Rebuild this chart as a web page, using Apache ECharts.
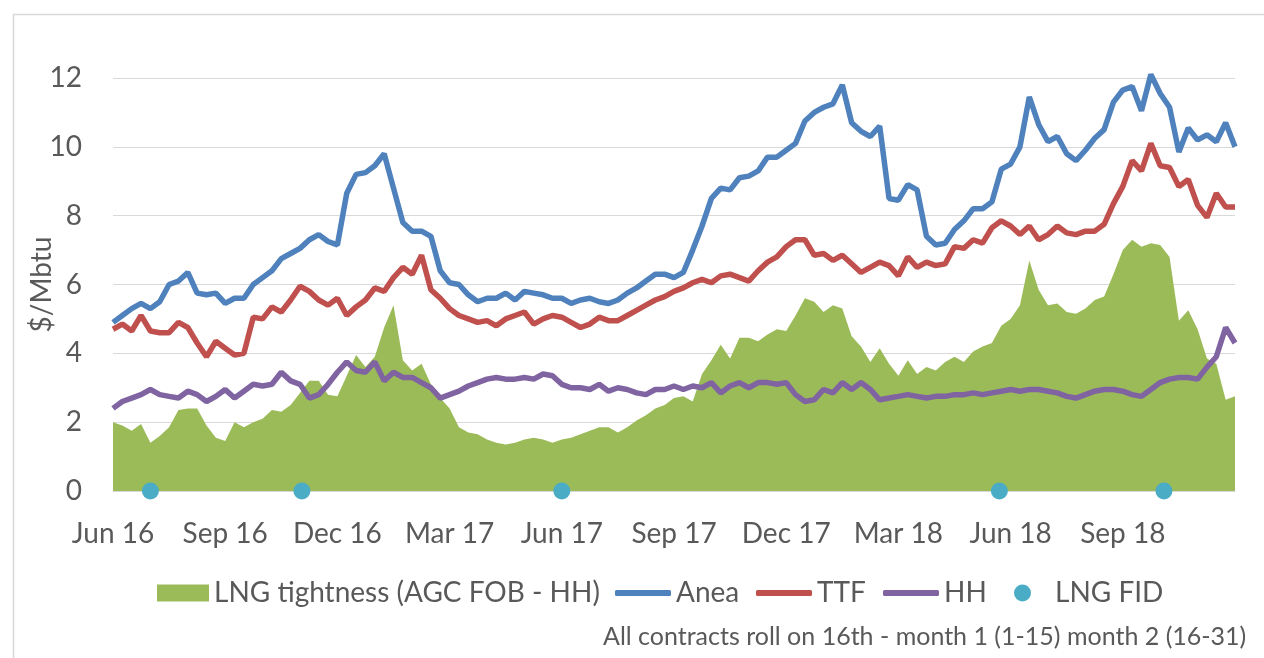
<!DOCTYPE html>
<html>
<head>
<meta charset="utf-8">
<title>LNG tightness</title>
<script src="https://cdn.jsdelivr.net/npm/echarts@6/dist/echarts.min.js"></script>
<style>
  html, body { margin: 0; padding: 0; background: #fff; }
  #chart { width: 1264px; height: 658px; }
</style>
</head>
<body>
<div id="chart"></div>
<script>
// x is months since 1 Jun 2016, one sample every quarter month (121 samples up to Dec 18)
const step = 0.25;
const tickLabels = ['Jun 16', 'Sep 16', 'Dec 16', 'Mar 17', 'Jun 17', 'Sep 17', 'Dec 17', 'Mar 18', 'Jun 18', 'Sep 18'];

const lngTightness = [
  2.0, 1.9, 1.75, 1.95, 1.4, 1.6, 1.85, 2.35, 2.4, 2.4, 1.9, 1.55, 1.45, 2.0, 1.85, 2.0, 2.1, 2.35, 2.3, 2.5, 2.85,
  3.2, 3.2, 2.8, 2.75, 3.35, 3.95, 3.6, 3.9, 4.75, 5.4, 3.8, 3.5, 3.7, 3.1, 2.7, 2.4, 1.85, 1.7, 1.65, 1.5,
  1.4, 1.35, 1.4, 1.5, 1.55, 1.5, 1.4, 1.5, 1.55, 1.65, 1.75, 1.85, 1.85, 1.7, 1.85, 2.05, 2.2, 2.4, 2.5, 2.7,
  2.75, 2.6, 3.4, 3.8, 4.25, 3.85, 4.45, 4.45, 4.35, 4.55, 4.7, 4.65, 5.1, 5.6, 5.5, 5.2, 5.4, 5.3, 4.5, 4.2,
  3.75, 4.15, 3.7, 3.35, 3.8, 3.4, 3.6, 3.5, 3.75, 3.9, 3.75, 4.05, 4.2, 4.3, 4.8, 5.0, 5.4, 6.7, 5.85, 5.4,
  5.45, 5.2, 5.15, 5.3, 5.55, 5.65, 6.3, 7.0, 7.3, 7.1, 7.2, 7.15, 6.8, 4.95, 5.25, 4.7, 3.85, 3.7, 2.65, 2.75
];
const anea = [
  4.9, 5.1, 5.3, 5.45, 5.3, 5.5, 6.0, 6.1, 6.35, 5.75, 5.7, 5.75, 5.45, 5.6, 5.6, 6.0, 6.2, 6.4, 6.75, 6.9, 7.05,
  7.3, 7.45, 7.25, 7.15, 8.65, 9.2, 9.25, 9.45, 9.8, 8.8, 7.8, 7.55, 7.55, 7.4, 6.4, 6.05, 6.0, 5.7, 5.5, 5.6,
  5.6, 5.75, 5.55, 5.8, 5.75, 5.7, 5.6, 5.6, 5.45, 5.55, 5.6, 5.5, 5.45, 5.55, 5.75, 5.9, 6.1, 6.3, 6.3, 6.2,
  6.35, 7.0, 7.7, 8.5, 8.8, 8.75, 9.1, 9.15, 9.3, 9.7, 9.7, 9.9, 10.1, 10.75, 11.0, 11.15, 11.25, 11.8, 10.7, 10.45,
  10.3, 10.6, 8.5, 8.45, 8.9, 8.75, 7.4, 7.15, 7.2, 7.6, 7.85, 8.2, 8.2, 8.4, 9.35, 9.5, 10.0, 11.45, 10.65, 10.15,
  10.3, 9.8, 9.6, 9.9, 10.25, 10.5, 11.3, 11.65, 11.75, 11.05, 12.1, 11.55, 11.15, 9.85, 10.55, 10.2, 10.35, 10.15, 10.7, 10.0
];
const ttf = [
  4.7, 4.85, 4.65, 5.1, 4.65, 4.6, 4.6, 4.9, 4.75, 4.3, 3.9, 4.35, 4.15, 3.95, 4.0, 5.05, 5.0, 5.35, 5.2, 5.55, 5.95,
  5.8, 5.55, 5.4, 5.6, 5.1, 5.35, 5.55, 5.9, 5.8, 6.2, 6.5, 6.3, 6.85, 5.85, 5.6, 5.3, 5.1, 5.0, 4.9, 4.95,
  4.8, 5.0, 5.1, 5.2, 4.85, 5.0, 5.1, 5.05, 4.9, 4.75, 4.85, 5.05, 4.95, 4.95, 5.1, 5.25, 5.4, 5.55, 5.65, 5.8,
  5.9, 6.05, 6.15, 6.05, 6.25, 6.3, 6.2, 6.1, 6.4, 6.65, 6.8, 7.1, 7.3, 7.3, 6.85, 6.9, 6.7, 6.85, 6.6, 6.35,
  6.5, 6.65, 6.55, 6.25, 6.8, 6.5, 6.65, 6.55, 6.6, 7.1, 7.05, 7.3, 7.2, 7.65, 7.85, 7.7, 7.45, 7.7, 7.3, 7.45,
  7.7, 7.5, 7.45, 7.55, 7.55, 7.75, 8.35, 8.85, 9.6, 9.3, 10.1, 9.45, 9.4, 8.85, 9.05, 8.3, 7.95, 8.65, 8.25, 8.25
];
const hh = [
  2.4, 2.6, 2.7, 2.8, 2.95, 2.8, 2.75, 2.7, 2.9, 2.8, 2.6, 2.75, 2.95, 2.7, 2.9, 3.1, 3.05, 3.1, 3.45, 3.2, 3.1,
  2.7, 2.8, 3.1, 3.45, 3.75, 3.5, 3.45, 3.75, 3.2, 3.45, 3.3, 3.3, 3.15, 3.0, 2.7, 2.8, 2.9, 3.05, 3.15, 3.25,
  3.3, 3.25, 3.25, 3.3, 3.25, 3.4, 3.35, 3.1, 3.0, 3.0, 2.95, 3.1, 2.9, 3.0, 2.95, 2.85, 2.8, 2.95, 2.95, 3.05,
  2.95, 3.05, 3.0, 3.15, 2.85, 3.05, 3.15, 3.0, 3.15, 3.15, 3.1, 3.15, 2.8, 2.6, 2.65, 2.95, 2.85, 3.15, 2.95, 3.15,
  2.95, 2.65, 2.7, 2.75, 2.8, 2.75, 2.7, 2.75, 2.75, 2.8, 2.8, 2.85, 2.8, 2.85, 2.9, 2.95, 2.9, 2.95, 2.95, 2.9,
  2.85, 2.75, 2.7, 2.8, 2.9, 2.95, 2.95, 2.9, 2.8, 2.75, 2.95, 3.15, 3.25, 3.3, 3.3, 3.25, 3.6, 3.9, 4.75, 4.3
];
// LNG final investment decisions, months since Jun 16
const fidMonths = [1.0, 5.05, 12.0, 23.7, 28.1];

const textColor = '#595959';
const font = 'Lato';
const legendText = { fontFamily: font, fontSize: 28, color: textColor };
const legendTop = 579;

function toPoints(values) {
  return values.map((v, i) => [i * step, v]);
}

function priceLine(name, values, color) {
  return {
    name: name,
    type: 'line',
    data: toPoints(values),
    symbol: 'none',
    showSymbol: false,
    clip: false,
    itemStyle: { color: color },
    lineStyle: { color: color, width: 5.5 }
  };
}

// one legend per entry so each sits where the original put it
function lineLegend(name, left) {
  return {
    left: left, top: legendTop, padding: 0,
    itemWidth: 56, itemHeight: 6,
    textStyle: legendText,
    data: [{ name: name, icon: 'roundRect' }]
  };
}

const chart = echarts.init(document.getElementById('chart'));
chart.setOption({
  animation: false,
  backgroundColor: '#fff',
  grid: { left: 113, right: 29, top: 78, bottom: 167, outerBoundsMode: 'none' },
  legend: [
    {
      left: 157, top: legendTop, padding: 0,
      itemWidth: 52, itemHeight: 17,
      textStyle: legendText,
      data: [{ name: 'LNG tightness (AGC FOB - HH)', icon: 'rect' }]
    },
    lineLegend('Anea', 615),
    lineLegend('TTF', 756),
    lineLegend('HH', 883),
    {
      left: 1014, top: legendTop, padding: 0,
      itemWidth: 55, itemHeight: 17,
      textStyle: legendText,
      data: [{ name: 'LNG FID', icon: 'circle' }]
    }
  ],
  xAxis: {
    type: 'value',
    min: 0,
    max: 30,
    interval: 3,
    axisLine: { show: true, lineStyle: { color: '#d9d9d9', width: 1 } },
    axisTick: { show: false },
    splitLine: { show: false },
    axisLabel: {
      margin: 29,
      fontFamily: font,
      fontSize: 28,
      color: textColor,
      showMaxLabel: false,
      formatter: (v) => tickLabels[Math.round(v / 3)] || ''
    }
  },
  yAxis: {
    type: 'value',
    min: 0,
    max: 12,
    interval: 2,
    name: '$/Mbtu',
    nameLocation: 'middle',
    nameGap: 57,
    nameMoveOverlap: false,
    nameTextStyle: { fontFamily: font, fontSize: 28, color: textColor },
    axisLine: { show: false },
    axisTick: { show: false },
    splitLine: { lineStyle: { color: '#d9d9d9', width: 1 } },
    axisLabel: { margin: 31, fontFamily: font, fontSize: 28, color: textColor }
  },
  series: [
    {
      name: 'LNG tightness (AGC FOB - HH)',
      type: 'line',
      data: toPoints(lngTightness),
      symbol: 'none',
      lineStyle: { width: 0 },
      itemStyle: { color: '#9BBB59' },
      areaStyle: { color: '#9BBB59', opacity: 1 }
    },
    priceLine('Anea', anea, '#4F81BD'),
    priceLine('TTF', ttf, '#C0504D'),
    priceLine('HH', hh, '#8064A2'),
    {
      name: 'LNG FID',
      type: 'scatter',
      data: fidMonths.map((m) => [m, 0]),
      symbolSize: 17,
      clip: false,
      itemStyle: { color: '#4BACC6', opacity: 1 },
      z: 5
    }
  ],
  graphic: [
    {
      type: 'rect',
      left: 11,
      top: 12,
      silent: true,
      shape: { width: 1300, height: 700 },
      style: { fill: 'none', stroke: '#d9d9d9', lineWidth: 1.5 }
    },
    {
      type: 'text',
      left: 603,
      top: 624,
      silent: true,
      style: {
        text: 'All contracts roll on 16th - month 1 (1-15) month 2 (16-31)',
        fontFamily: font,
        fontSize: 25,
        fill: textColor
      }
    }
  ]
});
</script>
</body>
</html>
